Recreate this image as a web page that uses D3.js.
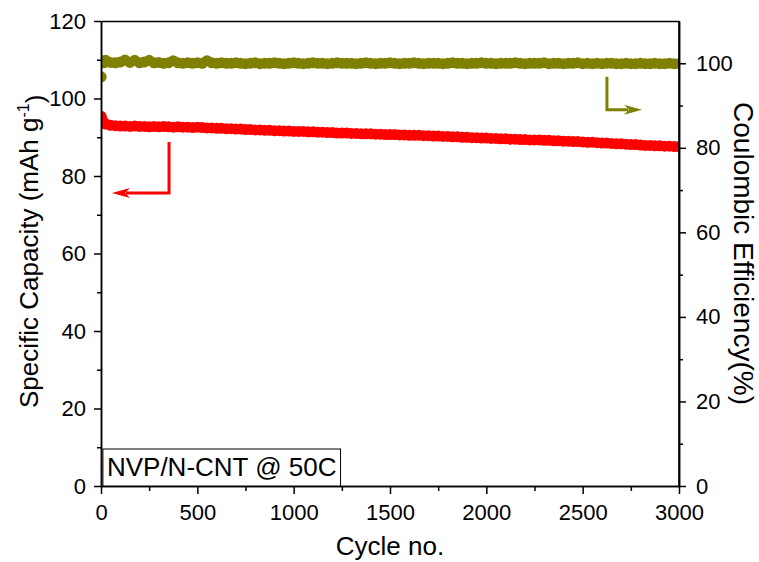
<!DOCTYPE html>
<html>
<head>
<meta charset="utf-8">
<script src="https://cdn.jsdelivr.net/npm/d3@7/dist/d3.min.js"></script>
<style>
  html, body { margin: 0; padding: 0; background: #ffffff; }
  svg { display: block; }
  text { font-family: "Liberation Sans", Arial, sans-serif; fill: #000; }
</style>
</head>
<body>
<svg id="chart" width="759" height="562"></svg>
<script>
// ---------------- data ----------------
const cycles = [1, 5, 10, 15, 20,
  25, 50, 75, 100, 125, 150, 175, 200, 225, 250,
  275, 300, 325, 350, 375, 400, 425, 450, 475, 500,
  525, 550, 575, 600, 625, 650, 675, 700, 725, 750,
  775, 800, 825, 850, 875, 900, 925, 950, 975, 1000,
  1025, 1050, 1075, 1100, 1125, 1150, 1175, 1200, 1225, 1250,
  1275, 1300, 1325, 1350, 1375, 1400, 1425, 1450, 1475, 1500,
  1525, 1550, 1575, 1600, 1625, 1650, 1675, 1700, 1725, 1750,
  1775, 1800, 1825, 1850, 1875, 1900, 1925, 1950, 1975, 2000,
  2025, 2050, 2075, 2100, 2125, 2150, 2175, 2200, 2225, 2250,
  2275, 2300, 2325, 2350, 2375, 2400, 2425, 2450, 2475, 2500,
  2525, 2550, 2575, 2600, 2625, 2650, 2675, 2700, 2725, 2750,
  2775, 2800, 2825, 2850, 2875, 2900, 2925, 2950, 2975, 3000];

const capacity = [95.4, 94.6, 94.0, 93.7, 93.5,
  93.4, 93.1, 93.0, 92.9, 92.9, 92.8, 92.9, 92.8, 92.8, 92.7,
  92.8, 92.7, 92.8, 92.7, 92.6, 92.7, 92.6, 92.6, 92.5, 92.6,
  92.5, 92.4, 92.4, 92.3, 92.3, 92.2, 92.2, 92.1, 92.1, 92.0,
  92.0, 91.9, 91.9, 91.8, 91.8, 91.7, 91.7, 91.6, 91.6, 91.5,
  91.5, 91.5, 91.4, 91.4, 91.3, 91.3, 91.2, 91.2, 91.1, 91.1,
  91.1, 91.0, 91.0, 90.9, 90.9, 90.9, 90.8, 90.8, 90.7, 90.7,
  90.7, 90.6, 90.6, 90.5, 90.5, 90.5, 90.4, 90.4, 90.3, 90.3,
  90.2, 90.2, 90.1, 90.1, 90.0, 90.0, 89.9, 89.9, 89.8, 89.8,
  89.7, 89.7, 89.6, 89.6, 89.5, 89.5, 89.4, 89.4, 89.3, 89.3,
  89.3, 89.2, 89.2, 89.1, 89.1, 89.0, 89.0, 88.9, 88.9, 88.8,
  88.7, 88.7, 88.6, 88.5, 88.5, 88.4, 88.3, 88.3, 88.2, 88.1,
  88.1, 88.0, 87.9, 87.9, 87.8, 87.8, 87.7, 87.7, 87.6, 87.6];

const efficiency = [96.8, 100.6, 100.3, 100.1, 100.4,
  100.7, 100.2, 100.1, 100.3, 100.8, 100.2, 100.7, 100.1, 100.3, 100.7,
  100.1, 100.2, 100.0, 100.1, 100.6, 100.1, 100.0, 100.1, 100.0, 100.1,
  100.0, 100.6, 100.1, 100.0, 100.1, 100.0, 100.0, 100.1, 100.0, 99.9,
  100.0, 100.1, 99.9, 100.0, 100.0, 100.1, 100.0, 99.9, 100.0, 100.1,
  100.0, 99.9, 100.0, 100.1, 100.0, 100.0, 99.9, 100.0, 100.1, 100.0,
  100.0, 100.0, 99.9, 100.0, 100.1, 100.0, 99.9, 100.0, 100.0, 100.1,
  100.0, 99.9, 100.0, 100.0, 100.1, 100.0, 99.9, 100.0, 100.0, 100.0,
  99.9, 100.0, 100.1, 100.0, 100.0, 99.9, 100.0, 100.0, 100.1, 100.0,
  100.0, 99.9, 100.0, 100.0, 100.0, 100.1, 100.0, 99.9, 100.0, 100.0,
  100.0, 100.1, 99.9, 100.0, 100.0, 99.9, 100.0, 100.0, 100.1, 99.9,
  100.0, 99.9, 100.0, 99.9, 100.0, 100.0, 99.9, 99.9, 100.0, 99.9,
  99.9, 100.0, 99.9, 99.9, 100.0, 99.9, 99.9, 100.0, 99.9, 99.9];

const xTicks = [0, 500, 1000, 1500, 2000, 2500, 3000];
const xMinor = [250, 750, 1250, 1750, 2250, 2750];
const yLeftTicks = [0, 20, 40, 60, 80, 100, 120];
const yLeftMinor = [10, 30, 50, 70, 90, 110];
const yRightTicks = [0, 20, 40, 60, 80, 100];
const yRightMinor = [10, 30, 50, 70, 90];

const xLabel = "Cycle no.";
const yLeftLabel = "Specific Capacity (mAh g";
const yLeftSup = "-1";
const yRightLabel = "Coulombic Efficiency(%)";
const sampleLabel = "NVP/N-CNT @ 50C";

// annotation arrows (in data units)
const capArrow = [[353, 88.8], [353, 75.6], [57, 75.6]];
const ceArrow = [[2626, 96.8], [2626, 89.0], [2808, 89.0]];

// ---------------- layout ----------------
const pLeft = 101, pRight = 679, pTop = 21, pBottom = 486;
const red = "#ff0000", olive = "#808000";

const svg = d3.select("#chart");
const x = d3.scaleLinear().domain([0, 3000]).range([pLeft, pRight]);
const yL = d3.scaleLinear().domain([0, 120]).range([pBottom, pTop]);
const yR = d3.scaleLinear().domain([0, 110]).range([pBottom, pTop]);

svg.append("defs").append("clipPath").attr("id", "plotclip")
  .append("rect").attr("x", pLeft).attr("y", pTop)
  .attr("width", pRight - pLeft).attr("height", pBottom - pTop);

// ---------------- data marks ----------------
const gData = svg.append("g").attr("clip-path", "url(#plotclip)");
const capData = cycles.map((c, i) => ({ c, v: capacity[i] }));
const ceData = cycles.map((c, i) => ({ c, v: efficiency[i] }));

gData.selectAll("circle.ce").data(ceData).join("circle")
  .attr("class", "ce")
  .attr("cx", d => x(d.c)).attr("cy", d => yR(d.v)).attr("r", 5.5)
  .attr("fill", olive);

gData.selectAll("circle.cap").data(capData).join("circle")
  .attr("class", "cap")
  .attr("cx", d => x(d.c)).attr("cy", d => yL(d.v)).attr("r", 5.5)
  .attr("fill", red);

// ---------------- arrows ----------------
function drawArrow(pts, yScale, color, dir) {
  const p = pts.map(d => [x(d[0]), yScale(d[1])]);
  const tip = p[p.length - 1];
  const headLen = 18, half = 5;
  const sgn = dir === "L" ? 1 : -1;
  const lineEnd = [tip[0] + sgn * (headLen - 4), tip[1]];
  const linePts = p.slice(0, -1).concat([lineEnd]);
  svg.append("path")
    .attr("d", d3.line()(linePts))
    .attr("fill", "none").attr("stroke", color).attr("stroke-width", 3)
    .attr("stroke-linejoin", "miter");
  const head = [
    tip,
    [tip[0] + sgn * headLen, tip[1] - half],
    [tip[0] + sgn * (headLen - 5), tip[1]],
    [tip[0] + sgn * headLen, tip[1] + half]
  ];
  svg.append("path").attr("d", d3.line()(head) + "Z").attr("fill", color);
}
drawArrow(capArrow, yL, red, "L");
drawArrow(ceArrow, yR, olive, "R");

// ---------------- axes ----------------
function styleAxis(g) {
  g.select(".domain").attr("stroke", "#000").attr("stroke-width", 1.5);
  g.selectAll(".tick line").attr("stroke", "#000").attr("stroke-width", 1.5);
  g.selectAll(".tick text").style("font-family", '"Liberation Sans", Arial, sans-serif')
    .style("font-size", "22px").attr("fill", "#000");
}

svg.append("g").attr("transform", `translate(0,${pBottom})`)
  .call(d3.axisBottom(x).tickValues(xMinor).tickSize(5).tickFormat("").tickSizeOuter(0))
  .call(styleAxis);
svg.append("g").attr("transform", `translate(0,${pBottom})`)
  .call(d3.axisBottom(x).tickValues(xTicks).tickSize(8).tickPadding(10).tickSizeOuter(0).tickFormat(d3.format("d")))
  .call(styleAxis);
svg.append("g").attr("transform", `translate(0,${pTop})`)
  .call(d3.axisTop(x).tickValues([]).tickSizeOuter(0))
  .call(styleAxis);
svg.append("g").attr("transform", `translate(${pLeft},0)`)
  .call(d3.axisLeft(yL).tickValues(yLeftMinor).tickSize(4).tickFormat("").tickSizeOuter(0))
  .call(styleAxis);
svg.append("g").attr("transform", `translate(${pLeft},0)`)
  .call(d3.axisLeft(yL).tickValues(yLeftTicks).tickSize(7).tickPadding(8).tickSizeOuter(0).tickFormat(d3.format("d")))
  .call(styleAxis);
svg.append("g").attr("transform", `translate(${pRight},0)`)
  .call(d3.axisRight(yR).tickValues(yRightMinor).tickSize(4).tickFormat("").tickSizeOuter(0))
  .call(styleAxis);
svg.append("g").attr("transform", `translate(${pRight},0)`)
  .call(d3.axisRight(yR).tickValues(yRightTicks).tickSize(7).tickPadding(10).tickSizeOuter(0).tickFormat(d3.format("d")))
  .call(styleAxis);
svg.append("line").attr("x1", pRight).attr("x2", pRight).attr("y1", pTop).attr("y2", pBottom)
  .attr("stroke", "#000").attr("stroke-width", 1.5);

// ---------------- titles ----------------
svg.append("text")
  .attr("x", (pLeft + pRight) / 2).attr("y", 555)
  .attr("text-anchor", "middle").style("font-size", "26px")
  .text(xLabel);

const lt = svg.append("text")
  .attr("transform", "translate(38,408) rotate(-90)")
  .attr("text-anchor", "start").style("font-size", "26px");
lt.append("tspan").text(yLeftLabel);
lt.append("tspan").attr("dy", "-0.55em").style("font-size", "16px").text(yLeftSup);
lt.append("tspan").attr("dy", "0.55em").text(")");

svg.append("text")
  .attr("transform", `translate(734,${(pTop + pBottom) / 2}) rotate(90)`)
  .attr("text-anchor", "middle").style("font-size", "28px")
  .text(yRightLabel);

// ---------------- sample label box ----------------
const boxX0 = x(10), boxY1 = yL(0);
const gBox = svg.append("g");
const boxRect = gBox.append("rect");
const lbl = gBox.append("text")
  .attr("x", boxX0 + 4).attr("y", boxY1 - 10)
  .style("font-size", "26px").text(sampleLabel);
const bb = lbl.node().getBBox();
boxRect
  .attr("x", boxX0).attr("y", boxY1 - 37)
  .attr("width", bb.width + 8).attr("height", 37)
  .attr("fill", "#fff").attr("stroke", "#000").attr("stroke-width", 1);
</script>
</body>
</html>
